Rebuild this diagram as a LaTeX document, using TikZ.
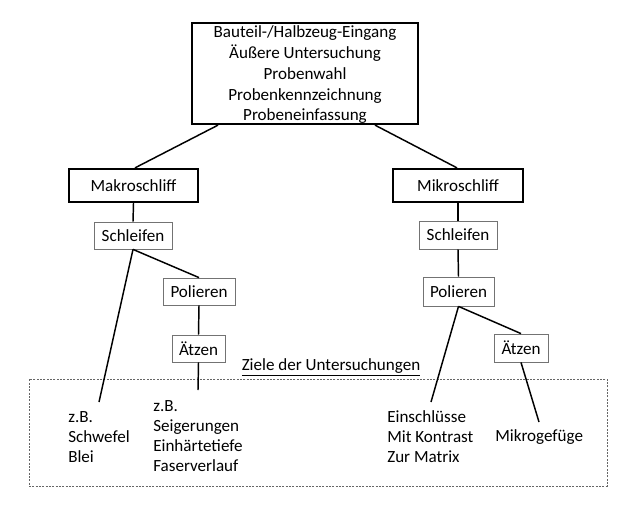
\documentclass[tikz,border=0pt]{standalone}
\usepackage{fontspec}
\setmainfont{Carlito}
\begin{document}
\begin{tikzpicture}[x=0.75pt,y=-0.75pt,
  every node/.style={font=\fontsize{12.8}{15}\selectfont, text=black, inner sep=0pt},
  bigbox/.style={draw=black, line width=1.7pt, rectangle},
  smallbox/.style={draw=black!55, line width=0.6pt, rectangle, minimum height=27*0.75pt},
  conn/.style={draw=black, line width=1.1pt},
  goalbox/.style={draw=black!60, line width=0.5pt, dash pattern=on 1.5pt off 1pt, rectangle}
]
\useasboundingbox (0,0) rectangle (639,511);

% top box
\node[bigbox, minimum width=226*0.75pt, minimum height=101*0.75pt] (top) at (305,73.5) {};
\node[align=center, font=\fontsize{12.8}{15.55}\selectfont] (toptext) at (305,75) {Bauteil-/Halbzeug-Eingang\\Äußere Untersuchung\\Probenwahl\\Probenkennzeichnung\\Probeneinfassung};

% level 2
\node[bigbox, minimum width=129*0.75pt, minimum height=33*0.75pt] (makro) at (133.5,185.5) {Makroschliff};
\node[bigbox, minimum width=130*0.75pt, minimum height=33*0.75pt] (mikro) at (458,185.5) {Mikroschliff};

% left branch
\node[smallbox, minimum width=78*0.75pt] (schleifenL) at (133,235.5) {Schleifen};
\node[smallbox, minimum width=72*0.75pt] (polierenL) at (199,291.5) {Polieren};
\node[smallbox, minimum width=53*0.75pt] (aetzenL) at (198.5,348.5) {Ätzen};

% right branch
\node[smallbox, minimum width=78*0.75pt, minimum height=28*0.75pt] (schleifenR) at (458,235) {Schleifen};
\node[smallbox, minimum width=71*0.75pt, minimum height=29*0.75pt] (polierenR) at (458.5,291.5) {Polieren};
\node[smallbox, minimum width=54*0.75pt, minimum height=28*0.75pt] (aetzenR) at (521,348) {Ätzen};

% goals box
\node[goalbox, minimum width=578*0.75pt, minimum height=107*0.75pt] (goals) at (318,432.5) {};
\node (goaltitle) at (331,367) {\underline{Ziele der Untersuchungen}};

% goal texts
\node[anchor=west, align=left] (g1) at (68,437) {z.B.\\Schwefel\\Blei};
\node[anchor=west, align=left] (g2) at (153,436.5) {z.B.\\Seigerungen\\Einhärtetiefe\\Faserverlauf};
\node[anchor=west, align=left] (g3) at (387,437) {Einschlüsse\\Mit Kontrast\\Zur Matrix};
\node[anchor=west, align=left] (g4) at (495,437) {Mikrogefüge};

% connector ends
\coordinate (e1) at (99,402);
\coordinate (e2) at (198,390);
\coordinate (e3) at (431,402);
\coordinate (e4) at (539,422);

% connectors
\draw[conn] ([xshift=-87*0.75pt]top.south) -- ([xshift=1.5*0.75pt]makro.north);
\draw[conn] ([xshift=70*0.75pt]top.south) -- ([xshift=-1*0.75pt]mikro.north);
\draw[conn] (makro.south) -- (schleifenL.north);
\draw[conn] (schleifenL.south) -- (e1);
\draw[conn] (schleifenL.south) -- (polierenL.north);
\draw[conn] (polierenL.south) -- (aetzenL.north);
\draw[conn] (aetzenL.south) -- (e2);
\draw[conn] (mikro.south) -- (schleifenR.north);
\draw[conn] (schleifenR.south) -- (polierenR.north);
\draw[conn] (polierenR.south) -- (e3);
\draw[conn] (polierenR.south) -- (aetzenR.north);
\draw[conn] (aetzenR.south) -- (e4);
\end{tikzpicture}
\end{document}
